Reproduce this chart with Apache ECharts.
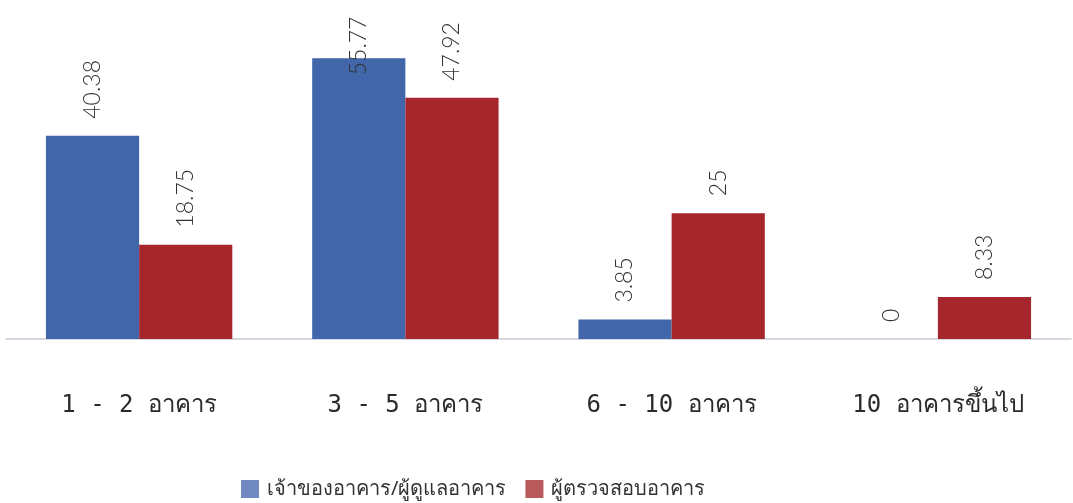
<!DOCTYPE html>
<html>
<head>
<meta charset="utf-8">
<script src="https://cdn.jsdelivr.net/npm/echarts@6/dist/echarts.min.js"></script>
<style>
html,body{margin:0;padding:0;background:#fff;}
#chart{width:1073px;height:503px;}
</style>
</head>
<body>
<div id="chart"></div>
<script>
const categories = ['1 - 2 อาคาร', '3 - 5 อาคาร', '6 - 10 อาคาร', '10 อาคารขึ้นไป'];
const seriesNames = ['เจ้าของอาคาร/ผู้ดูแลอาคาร', 'ผู้ตรวจสอบอาคาร'];
const ownerValues = [40.38, 55.77, 3.85, 0];
const inspectorValues = [18.75, 47.92, 25, 8.33];

const chart = echarts.init(document.getElementById('chart'));
const labelStyle = {
  show: true,
  position: 'top',
  rotate: 90,
  align: 'left',
  verticalAlign: 'middle',
  distance: 17,
  fontSize: 23,
  fontWeight: 300,
  fontFamily: 'Lato, "Noto Sans", sans-serif',
  color: '#333333'
};
function withLabels(vals) {
  return vals.map(v => (v > 55 ? { value: v, label: { distance: -17 } } : v));
}
chart.setOption({
  animation: false,
  backgroundColor: '#ffffff',
  grid: { left: 6, right: 2, top: 37, bottom: 164, containLabel: false },
  legend: {
    data: [
      { name: seriesNames[0], itemStyle: { color: '#7088c0' } },
      { name: seriesNames[1], itemStyle: { color: '#b85a5c' } }
    ],
    left: 236,
    top: 474,
    itemWidth: 18,
    itemHeight: 18,
    itemGap: 19,
    icon: 'rect',
    textStyle: { fontSize: 20, color: '#333', fontFamily: '"Noto Sans", sans-serif', padding: [0, 0, 0, 3] }
  },
  xAxis: {
    type: 'category',
    data: categories,
    axisLine: { show: true, lineStyle: { color: '#c9ccd6', width: 1.5 } },
    axisTick: { show: false },
    axisLabel: {
      margin: 55,
      fontSize: 24,
      color: '#2a2a2a',
      fontFamily: '"DejaVu Sans Mono", "Liberation Mono", monospace'
    }
  },
  yAxis: {
    type: 'value',
    min: 0,
    max: 60,
    show: false,
    splitLine: { show: false }
  },
  series: [
    {
      name: seriesNames[0],
      type: 'bar',
      data: withLabels(ownerValues),
      barGap: '0%',
      barCategoryGap: '30%',
      itemStyle: { color: '#4166aa' },
      label: labelStyle
    },
    {
      name: seriesNames[1],
      type: 'bar',
      data: withLabels(inspectorValues),
      barGap: '0%',
      barCategoryGap: '30%',
      itemStyle: { color: '#a5262b' },
      label: labelStyle
    }
  ]
});
</script>
</body>
</html>
